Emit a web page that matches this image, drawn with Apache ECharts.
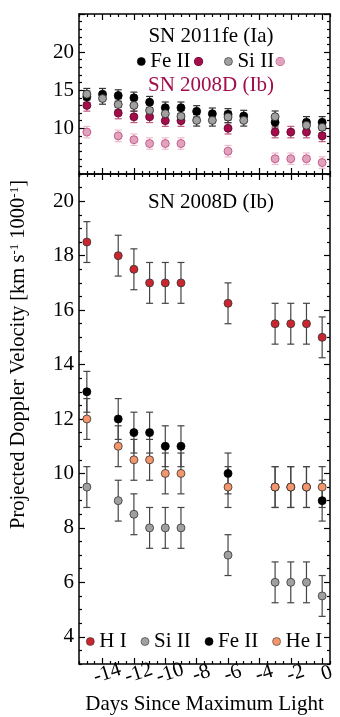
<!DOCTYPE html>
<html>
<head>
<meta charset="utf-8">
<script src="https://cdn.jsdelivr.net/npm/echarts@6/dist/echarts.min.js"></script>
<style>
  html, body { margin: 0; padding: 0; background: #fff; }
  #chart { width: 340px; height: 717px; }
</style>
</head>
<body>
<div id="chart"></div>
<script>
// SN 2008D (Ib) velocities, thousands of km/s
var days2008D = [-15, -13, -12, -11, -10, -9, -6, -3, -2, -1, 0];
var hI_2008D = [18.5, 18, 17.5, 17, 17, 17, 16.25, 15.5, 15.5, 15.5, 15];
var siII_2008D = [9.5, 9, 8.5, 8, 8, 8, 7, 6, 6, 6, 5.5];
var feII_2008D = [13, 12, 11.5, 11.5, 11, 11, 10, 9.5, 9.5, 9.5, 9];
var heI_2008D = [12, 11, 10.5, 10.5, 10, 10, 9.5, 9.5, 9.5, 9.5, 9.5];

// SN 2011fe (Ia)
var days2011fe = [-15, -14, -13, -12, -11, -10, -9, -8, -7, -6, -5, -3, -1, 0];
var feII_2011fe = [14.13, 14.48, 14.3, 14.0, 13.43, 12.7, 12.7, 12.22, 11.91, 11.83, 11.61, 10.78, 10.78, 10.78];
var siII_2011fe = [14.48, 13.91, 13.13, 13.0, 12.35, 11.91, 11.57, 11.04, 11.04, 11.48, 11.04, 11.52, 10.39, 10.13];

var velErr = 0.75;

var dayTicks = [-14, -12, -10, -8, -6, -4, -2, 0];
var lowerTicks = [4, 6, 8, 10, 12, 14, 16, 18, 20];
var upperTicks = [10, 15, 20, 25];

var FONT = 'Liberation Serif';

function range(a, b, step, skip) {
    var out = [];
    for (var v = a; v <= b + 1e-9; v += step) {
        var r = Math.round(v * 100) / 100;
        if (skip.indexOf(r) < 0) out.push(r);
    }
    return out;
}
var dayMinor = range(-15.5, 0.5, 0.5, dayTicks);
var lowerMinor = range(3, 21, 0.5, lowerTicks);
var upperMinor = range(4, 25, 1, upperTicks);

function pairs(xs, ys) {
    return xs.map(function (x, i) { return [x, ys[i]]; });
}
function errs(xs, ys) {
    return xs.map(function (x, i) { return [x, ys[i] - velErr, ys[i] + velErr]; });
}

function errorBars(name, grid, xs, ys, color) {
    return {
        name: name,
        type: 'custom',
        xAxisIndex: grid * 4,
        yAxisIndex: grid * 4,
        z: 1,
        silent: true,
        data: errs(xs, ys),
        renderItem: function (params, api) {
            var top = api.coord([api.value(0), api.value(2)]);
            var bot = api.coord([api.value(0), api.value(1)]);
            var w = 3.5;
            var st = { stroke: color, lineWidth: 1.2 };
            return {
                type: 'group',
                children: [
                    { type: 'line', shape: { x1: top[0], y1: top[1], x2: bot[0], y2: bot[1] }, style: st },
                    { type: 'line', shape: { x1: top[0] - w, y1: top[1], x2: top[0] + w, y2: top[1] }, style: st },
                    { type: 'line', shape: { x1: bot[0] - w, y1: bot[1], x2: bot[0] + w, y2: bot[1] }, style: st }
                ]
            };
        }
    };
}

function dots(name, grid, xs, ys, fill, edge) {
    return {
        name: name,
        type: 'scatter',
        xAxisIndex: grid * 4,
        yAxisIndex: grid * 4,
        z: 3,
        symbol: 'circle',
        symbolSize: 8,
        itemStyle: { color: fill, borderColor: edge, borderWidth: 0.8, opacity: 1 },
        data: pairs(xs, ys)
    };
}

var lineStyle = { color: '#000', width: 1.5 };
var tickStyle = { color: '#000', width: 1.2 };

function xAxes(grid, labels) {
    var base = { type: 'value', gridIndex: grid, min: -15.5, max: 0.5, splitLine: { show: false } };
    var main = Object.assign({}, base, {
        position: 'bottom',
        axisLine: { show: true, onZero: false, lineStyle: lineStyle },
        axisTick: { inside: true, length: 6, customValues: dayTicks, lineStyle: tickStyle },
        axisLabel: labels ? {
            customValues: dayTicks, rotate: 18, align: 'center', margin: 11,
            padding: [0, 0, 0, 10],
            fontFamily: FONT, fontSize: 21, color: '#000'
        } : { show: false }
    });
    if (labels) {
        main.name = 'Days Since Maximum Light';
        main.nameLocation = 'middle';
        main.nameGap = 26;
        main.nameTextStyle = { fontFamily: FONT, fontSize: 21, color: '#000' };
    }
    return [
        main,
        Object.assign({}, base, { position: 'bottom', axisLine: { show: false, onZero: false },
            axisTick: { inside: true, length: 3, customValues: dayMinor, lineStyle: tickStyle }, axisLabel: { show: false } }),
        Object.assign({}, base, { position: 'top', axisLine: { show: true, onZero: false, lineStyle: lineStyle },
            axisTick: { inside: true, length: 6, customValues: dayTicks, lineStyle: tickStyle }, axisLabel: { show: false } }),
        Object.assign({}, base, { position: 'top', axisLine: { show: false, onZero: false },
            axisTick: { inside: true, length: 3, customValues: dayMinor, lineStyle: tickStyle }, axisLabel: { show: false } })
    ];
}

function yAxes(grid, min, max, major, minor, labelVals) {
    var base = { type: 'value', gridIndex: grid, min: min, max: max, splitLine: { show: false } };
    return [
        Object.assign({}, base, { position: 'left', axisLine: { show: true, onZero: false, lineStyle: lineStyle },
            axisTick: { inside: true, length: 6, customValues: major, lineStyle: tickStyle },
            axisLabel: { customValues: labelVals, margin: 5, fontFamily: FONT, fontSize: 21, color: '#000' } }),
        Object.assign({}, base, { position: 'left', axisLine: { show: false, onZero: false },
            axisTick: { inside: true, length: 3, customValues: minor, lineStyle: tickStyle }, axisLabel: { show: false } }),
        Object.assign({}, base, { position: 'right', axisLine: { show: true, onZero: false, lineStyle: lineStyle },
            axisTick: { inside: true, length: 6, customValues: major, lineStyle: tickStyle }, axisLabel: { show: false } }),
        Object.assign({}, base, { position: 'right', axisLine: { show: false, onZero: false },
            axisTick: { inside: true, length: 3, customValues: minor, lineStyle: tickStyle }, axisLabel: { show: false } })
    ];
}

var crimson = '#a30d4b';
var pink = '#dfa3bd';

var option = {
    animation: false,
    backgroundColor: '#fff',
    textStyle: { fontFamily: FONT },
    grid: [
        { left: 79, right: 10, top: 14, height: 160, outerBoundsMode: 'none' },
        { left: 79, right: 10, top: 174, height: 490, outerBoundsMode: 'none' }
    ],
    xAxis: xAxes(0, false).concat(xAxes(1, true)),
    yAxis: yAxes(0, 4, 25, upperTicks, upperMinor, [10, 15, 20])
        .concat(yAxes(1, 3, 21, lowerTicks, lowerMinor, lowerTicks)),
    title: [
        { text: 'SN 2011fe (Ia)', left: 206, top: 21, textAlign: 'center',
          textStyle: { fontFamily: FONT, fontSize: 21, fontWeight: 'normal', color: '#000' } },
        { text: 'SN 2008D (Ib)', left: 206, top: 70, textAlign: 'center',
          textStyle: { fontFamily: FONT, fontSize: 21, fontWeight: 'normal', color: crimson } },
        { text: 'SN 2008D (Ib)', left: 206, top: 187, textAlign: 'center',
          textStyle: { fontFamily: FONT, fontSize: 21, fontWeight: 'normal', color: '#000' } }
    ],
    legend: [
        {
            data: ['Fe II (2011fe)', 'Si II (2011fe)'],
            left: 132, top: 46,
            itemWidth: 8, itemHeight: 8, itemGap: 21,
            selectedMode: false,
            itemStyle: { borderWidth: 0.6 },
            formatter: function (name) {
                return name.indexOf('Fe') === 0 ? 'Fe II{g4| }{fe| }' : 'Si II{g2| }{si| }';
            },
            textStyle: {
                fontFamily: FONT, fontSize: 21, color: '#000',
                rich: {
                    g4: { width: 4 },
                    g2: { width: 2 },
                    fe: { width: 8, height: 8, borderRadius: 4, backgroundColor: crimson, borderColor: '#5a0629', borderWidth: 0.6 },
                    si: { width: 8, height: 8, borderRadius: 4, backgroundColor: pink, borderColor: '#c0457a', borderWidth: 0.6 }
                }
            }
        },
        {
            data: ['H I', 'Si II', 'Fe II', 'He I'],
            left: 81, top: 626,
            itemWidth: 8, itemHeight: 8, itemGap: 14,
            selectedMode: false,
            itemStyle: { borderWidth: 0.6 },
            textStyle: { fontFamily: FONT, fontSize: 21, color: '#000' }
        }
    ],
    graphic: [{
        type: 'text',
        left: 8, top: 180,
        rotation: Math.PI / 2,
        style: {
            text: 'Projected Doppler Velocity [km s{sup|-1} 1000{sup|-1}]',
            font: '20.5px "Liberation Serif"',
            fill: '#000',
            rich: { sup: { fontSize: 13, fontFamily: FONT, verticalAlign: 'top', lineHeight: 13, fill: '#000' } }
        }
    }],
    series: [
        // upper panel
        errorBars('Si II (2008D) err', 0, days2008D, siII_2008D, '#ebbccf'),
        dots('Si II (2008D)', 0, days2008D, siII_2008D, pink, '#c0457a'),
        errorBars('Fe II (2008D) err', 0, days2008D, feII_2008D, '#bf5a84'),
        dots('Fe II (2008D)', 0, days2008D, feII_2008D, crimson, '#5a0629'),
        errorBars('Fe II (2011fe) err', 0, days2011fe, feII_2011fe, '#333'),
        dots('Fe II (2011fe)', 0, days2011fe, feII_2011fe, '#000', '#000'),
        errorBars('Si II (2011fe) err', 0, days2011fe, siII_2011fe, '#333'),
        dots('Si II (2011fe)', 0, days2011fe, siII_2011fe, '#a0a0a0', '#222'),
        // lower panel
        errorBars('H I err', 1, days2008D, hI_2008D, '#444'),
        dots('H I', 1, days2008D, hI_2008D, '#c9262f', '#333'),
        errorBars('Si II err', 1, days2008D, siII_2008D, '#444'),
        dots('Si II', 1, days2008D, siII_2008D, '#a0a0a0', '#333'),
        errorBars('Fe II err', 1, days2008D, feII_2008D, '#444'),
        dots('Fe II', 1, days2008D, feII_2008D, '#000', '#000'),
        errorBars('He I err', 1, days2008D, heI_2008D, '#444'),
        dots('He I', 1, days2008D, heI_2008D, '#f4956b', '#333')
    ]
};

var chart = echarts.init(document.getElementById('chart'));
chart.setOption(option);
</script>
</body>
</html>
